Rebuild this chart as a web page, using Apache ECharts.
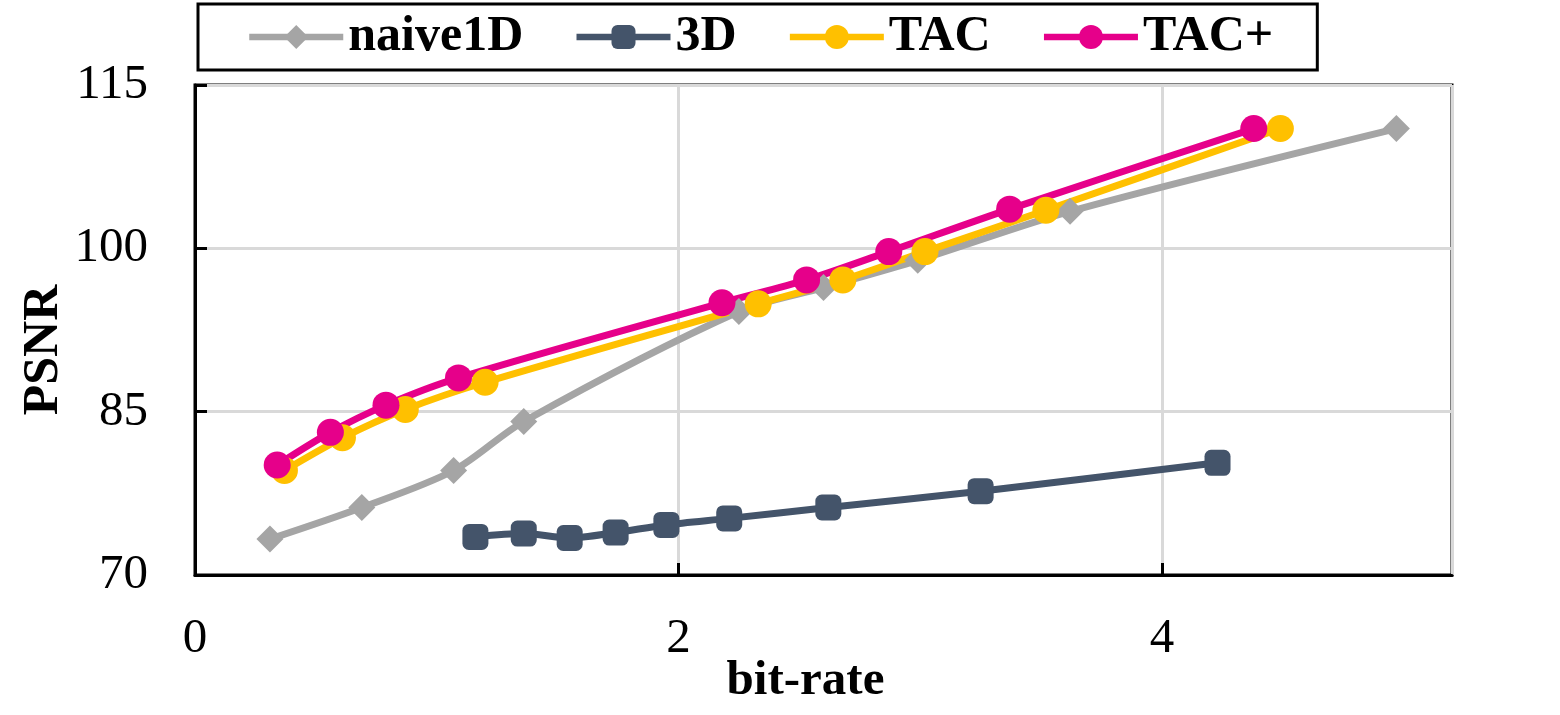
<!DOCTYPE html>
<html>
<head>
<meta charset="utf-8">
<script src="https://cdn.jsdelivr.net/npm/echarts@6/dist/echarts.min.js"></script>
<style>
  html, body { margin: 0; padding: 0; background: #fff; }
  #charts { width: 1560px; height: 715px; }
</style>
</head>
<body>
<div id="charts"></div>
<script>
var seriesNames = ['naive1D', '3D', 'TAC', 'TAC+'];

var naive1D = [[0.31, 73.3], [0.69, 76.2], [1.07, 79.6], [1.36, 84.1], [2.25, 94.2],
               [2.60, 96.4], [2.99, 98.9], [3.62, 103.4], [4.97, 111.0]];
var d3 = [[1.16, 73.5], [1.36, 73.8], [1.55, 73.4], [1.74, 73.9], [1.95, 74.6],
          [2.21, 75.2], [2.62, 76.2], [3.25, 77.7], [4.23, 80.3]];
var tac = [[0.37, 79.6], [0.61, 82.6], [0.87, 85.2], [1.20, 87.7], [2.33, 94.9],
           [2.68, 97.1], [3.02, 99.7], [3.52, 103.5], [4.49, 111.0]];
var tacPlus = [[0.34, 80.1], [0.56, 83.1], [0.79, 85.6], [1.09, 88.1], [2.18, 95.0],
               [2.53, 97.1], [2.87, 99.7], [3.37, 103.6], [4.38, 111.0]];

var xTicks = { min: 0, max: 5.2, interval: 2 };
var yTicks = { min: 70, max: 115, interval: 15 };

var font = 'Liberation Serif';
var myChart = echarts.init(document.getElementById('charts'));

function line(name, data, color, symbol, size) {
    return {
        name: name,
        type: 'line',
        data: data,
        smooth: 0.3,
        symbol: symbol,
        symbolSize: size,
        showSymbol: true,
        lineStyle: { color: color, width: 7 },
        itemStyle: { color: color },
        emphasis: { disabled: true }
    };
}

var option = {
    animation: false,
    backgroundColor: '#fff',
    grid: {
        left: 195, right: 108, top: 85, bottom: 140,
        outerBoundsMode: 'none',
        containLabel: false,
        show: true, borderColor: '#000', borderWidth: 3
    },
    legend: {
        data: seriesNames,
        left: 198, top: 4,
        padding: [8, 44, 8, 48],
        borderColor: '#000', borderWidth: 3,
        itemWidth: 94, itemHeight: 30, itemGap: 50,
        lineStyle: { width: 6.5 },
        textStyle: { fontFamily: font, fontWeight: 'bold', fontSize: 50, color: '#000' }
    },
    xAxis: {
        type: 'value',
        min: xTicks.min, max: xTicks.max, interval: xTicks.interval,
        name: 'bit-rate', nameLocation: 'middle', nameGap: 82, nameMoveOverlap: false,
        nameTextStyle: { fontFamily: font, fontWeight: 'bold', fontSize: 49, color: '#000', padding: [0, 36, 0, 0] },
        axisLine: { show: true, lineStyle: { color: '#000', width: 3 } },
        axisTick: { show: true, inside: true, length: 12, lineStyle: { color: '#000', width: 3 } },
        axisLabel: { fontFamily: font, fontSize: 49, color: '#000', margin: 40, showMaxLabel: false },
        splitLine: { show: true, lineStyle: { color: '#d9d9d9', width: 3 } }
    },
    yAxis: {
        type: 'value',
        min: yTicks.min, max: yTicks.max, interval: yTicks.interval,
        name: 'PSNR', nameLocation: 'middle', nameGap: 126, nameRotate: 90, nameMoveOverlap: false,
        nameTextStyle: { fontFamily: font, fontWeight: 'bold', fontSize: 50, color: '#000', padding: [0, 40, 0, 0] },
        axisLine: { show: true, lineStyle: { color: '#000', width: 3 } },
        axisTick: { show: true, inside: true, length: 12, lineStyle: { color: '#000', width: 3 } },
        axisLabel: { fontFamily: font, fontSize: 49, color: '#000', margin: 47 },
        splitLine: { show: true, lineStyle: { color: '#d9d9d9', width: 3 } }
    },
    series: [
        line('naive1D', naive1D, '#a5a5a5', 'diamond', 27),
        line('3D', d3, '#44546a', 'roundRect', 26),
        line('TAC', tac, '#ffc000', 'circle', 27),
        line('TAC+', tacPlus, '#e6008a', 'circle', 27)
    ]
};
myChart.setOption(option);
</script>
</body>
</html>
